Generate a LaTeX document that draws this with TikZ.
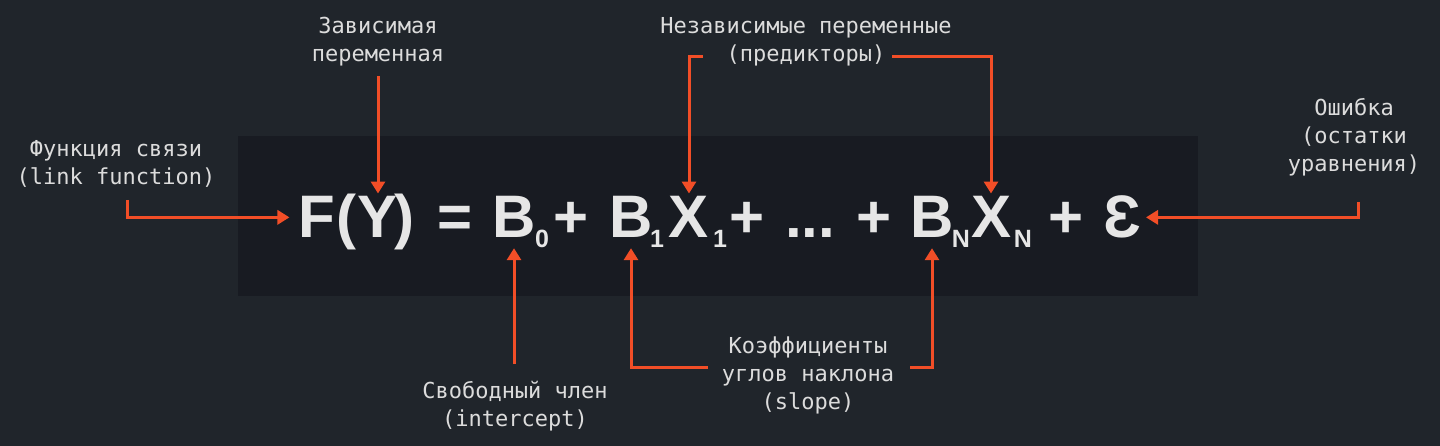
\documentclass[tikz,border=0pt]{standalone}
\usepackage{fontspec}
\usetikzlibrary{arrows.meta,positioning}
\newfontfamily\labelfont{DejaVu Sans Mono}
\newfontfamily\formulafont{Liberation Sans}
\definecolor{bgouter}{HTML}{20252B}
\definecolor{bginner}{HTML}{181B22}
\definecolor{textgray}{HTML}{DCDCDC}
\definecolor{glyphgray}{HTML}{E6E6E6}
\definecolor{arrowred}{HTML}{F24E27}
\tikzstyle{caption}=[text=textgray,font=\labelfont\fontsize{22}{28}\selectfont,
align=center,anchor=base,inner sep=0pt]
\tikzstyle{glyph}=[text=glyphgray,font=\formulafont\bfseries\fontsize{60}{60}\selectfont,
anchor=base,inner sep=0pt]
\tikzstyle{subglyph}=[glyph,font=\formulafont\bfseries\fontsize{25}{25}\selectfont]
\tikzstyle{pointer}=[draw=arrowred,line width=3pt,-{Triangle[length=12pt,width=14pt]}]

\begin{document}
\begin{tikzpicture}[x=1pt,y=-1pt]
    \fill[bgouter] (0,0) rectangle (1440,446);
    \fill[bginner] (238,136) rectangle (1198,296);

    % the equation, one node per glyph
    \node[glyph] (F) at (317,238) {F};
    \node[glyph] (lpar) at (346,238) {(};
    \node[glyph] (Y) at (378,238) {Y};
    \node[glyph] (rpar) at (404,238) {)};
    \node[glyph] (eq) at (455,238) {=};
    \node[glyph] (B0) at (514,238) {B};
    \node[subglyph] (sub0) at (542,248) {0};
    \node[glyph] (plus1) at (571,238) {+};
    \node[glyph] (B1) at (631,238) {B};
    \node[subglyph] (sub1) at (657,248) {1};
    \node[glyph] (X1) at (689,238) {X};
    \node[subglyph] (subx1) at (720,248) {1};
    \node[glyph] (plus2) at (747,238) {+};
    \node[glyph] (dots) at (810,238) {...};
    \node[glyph] (plus3) at (874,238) {+};
    \node[glyph] (BN) at (932,238) {B};
    \node[subglyph] (subN) at (961,248) {N};
    \node[glyph] (XN) at (991,238) {X};
    \node[subglyph] (subxN) at (1023,248) {N};
    \node[glyph] (plus4) at (1066,238) {+};
    \node[glyph] (eps) at (1122,238) {Ɛ};

    % captions, placed by the baseline of their last line
    \node[caption] (link) at (116,185) {Функция связи\\(link function)};
    \node[caption] (dep) at (378,62) {Зависимая\\переменная};
    \node[caption] (indep) at (806,62) {Независимые переменные\\(предикторы)};
    \node[caption] (error) at (1354,172) {Ошибка\\(остатки\\уравнения)};
    \node[caption] (icpt) at (515,426) {Свободный член\\(intercept)};
    \node[caption] (coef) at (808,409) {Коэффициенты\\углов наклона\\(slope)};

    % free ends of the pointers
    \coordinate (linkstart) at (127,200);
    \coordinate (depstart) at (378,76);
    \coordinate (x1start) at (703,57);
    \coordinate (xNstart) at (892,57);
    \coordinate (errstart) at (1358,202);
    \coordinate (icptstart) at (514,364);
    \coordinate (b1start) at (708,367);
    \coordinate (bNstart) at (910,367);

    \draw[pointer,shorten >=9pt] (linkstart) |- (F.west);
    \draw[pointer,shorten >=3pt] (depstart) -- (Y.north);
    \draw[pointer,shorten >=3pt] (x1start) -| (X1.north);
    \draw[pointer,shorten >=3pt] (xNstart) -| (XN.north);
    \draw[pointer,shorten >=5pt] (errstart) |- (eps.east);
    \draw[pointer,shorten >=10pt] (icptstart) -- (B0.south);
    \draw[pointer,shorten >=10pt] (b1start) -| (B1.south);
    \draw[pointer,shorten >=10pt] (bNstart) -| (BN.south);
\end{tikzpicture}
\end{document}
